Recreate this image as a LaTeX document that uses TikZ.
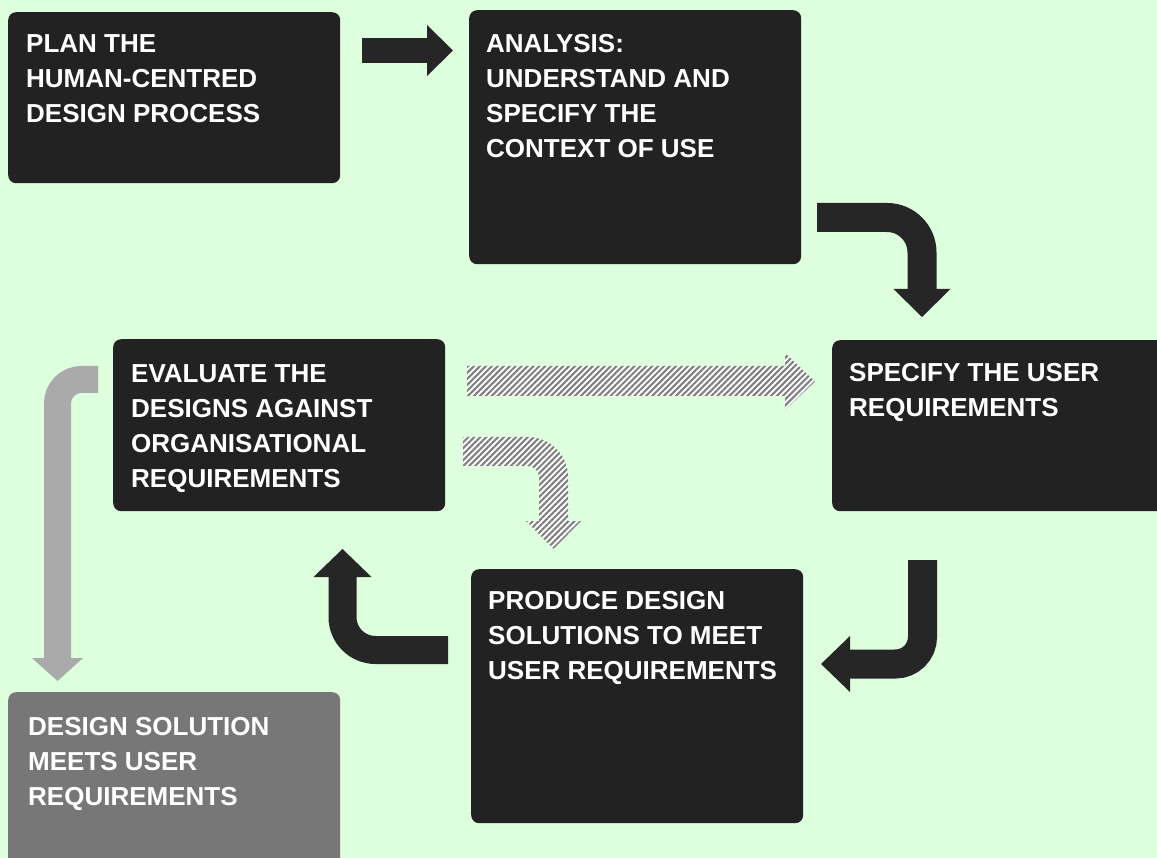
\documentclass[tikz,border=0pt]{standalone}
\usepackage{fontspec}
\setmainfont{Liberation Sans}
\usetikzlibrary{arrows.meta}
\usetikzlibrary{patterns.meta}

\definecolor{bggreen}{RGB}{221,255,221}
\definecolor{boxdark}{RGB}{34,34,34}
\definecolor{arrowdark}{RGB}{38,38,38}
\definecolor{donegray}{RGB}{119,119,119}
\definecolor{backgray}{RGB}{170,170,170}
\definecolor{hatchgray}{RGB}{128,128,128}

\tikzset{
  stage/.style={rectangle, rounded corners=8pt, fill=boxdark, anchor=north west,
    inner sep=0pt, minimum width=332pt},
  stagetext/.style={anchor=north west, inner sep=0pt, align=left, text=white,
    font=\fontsize{26}{35}\selectfont\bfseries},
  flow/.style={draw=arrowdark, line width=#1},
  hatched/.style={preaction={fill=white},
    pattern={Lines[angle=45,distance=4.2pt,line width=2.1pt]}, pattern color=hatchgray},
}

\begin{document}
\begin{tikzpicture}[x=1pt,y=1pt]
        \useasboundingbox (0,0) rectangle (1157,-858);
        \clip (0,0) rectangle (1157,-858);
        \fill[bggreen] (0,0) rectangle (1157,-858);

        % The stages of the process
        \node[stage, minimum height=171pt] (plan) at (8,-12) {};
        \node[stage, minimum height=254pt] (analysis) at (469,-10) {};
        \node[stage, minimum height=171pt, minimum width=360pt] (userreq) at (832,-340) {};
        \node[stage, minimum height=172pt] (evaluate) at (113,-339) {};
        \node[stage, minimum height=254pt] (produce) at (471,-569) {};
        \node[stage, minimum height=190pt, fill=donegray] (done) at (8,-692) {};

        % Labels of the stages
        \node[stagetext] (plantext) at ([shift={(18pt,-22pt)}]plan.north west)
            {PLAN THE\\HUMAN-CENTRED\\DESIGN PROCESS};
        \node[stagetext] (analysistext) at ([shift={(17pt,-24pt)}]analysis.north west)
            {ANALYSIS:\\UNDERSTAND AND\\SPECIFY THE\\CONTEXT OF USE};
        \node[stagetext] (userreqtext) at ([shift={(17pt,-23pt)}]userreq.north west)
            {SPECIFY THE USER\\REQUIREMENTS};
        \node[stagetext] (evaluatetext) at ([shift={(18pt,-25pt)}]evaluate.north west)
            {EVALUATE THE\\DESIGNS AGAINST\\ORGANISATIONAL\\REQUIREMENTS};
        \node[stagetext] (producetext) at ([shift={(17pt,-22pt)}]produce.north west)
            {PRODUCE DESIGN\\SOLUTIONS TO MEET\\USER REQUIREMENTS};
        \node[stagetext] (donetext) at ([shift={(20pt,-25pt)}]done.north west)
            {DESIGN SOLUTION\\MEETS USER\\REQUIREMENTS};

        % Ends of the block arrows
        \coordinate (planout) at (362,-50.5);
        \coordinate (analysisin) at (453,-50.5);
        \coordinate (analysisout) at (817,-217.5);
        \coordinate (userreqin) at (922,-317);
        \coordinate (userreqout) at (922.5,-560);
        \coordinate (producein) at (821,-664);
        \coordinate (produceout) at (448,-650);
        \coordinate (evaluatein) at (342.5,-549);
        \coordinate (evaluateout) at (98,-379.5);
        \coordinate (donein) at (57.5,-681);

        % Main loop
        \draw[flow=25pt, -{Triangle[length=26pt,width=51pt,line width=0pt]}] (planout) -- (analysisin);
        \draw[flow=29pt, rounded corners=35pt, -{Triangle[length=28pt,width=57pt,line width=0pt]}]
            (analysisout) -| (userreqin);
        \draw[flow=29pt, rounded corners=27pt, -{Triangle[length=29pt,width=56pt,line width=0pt]}]
            (userreqout) |- (producein);
        \draw[flow=28pt, rounded corners=33pt, -{Triangle[length=28pt,width=58pt,line width=0pt]}]
            (produceout) -| (evaluatein);

        % Way out when the requirements are met
        \draw[draw=backgray, line width=27pt, rounded corners=24pt,
            -{Triangle[length=23pt,width=51pt,line width=0pt]}] (evaluateout) -| (donein);

        % Hatched arrows
        \path[hatched] (467,-366) -- (785,-366) -- (785,-353) -- (815,-381.5) -- (785,-410)
            -- (785,-396) -- (467,-396) -- cycle;
        \path[hatched] (463,-437) -- (528,-437) arc[start angle=90, end angle=0, radius=40pt]
            -- (568,-521) -- (581,-521) -- (553.5,-549) -- (526,-521) -- (539,-521)
            -- (539,-477) arc[start angle=0, end angle=90, radius=11pt] -- (463,-466) -- cycle;
\end{tikzpicture}
\end{document}
